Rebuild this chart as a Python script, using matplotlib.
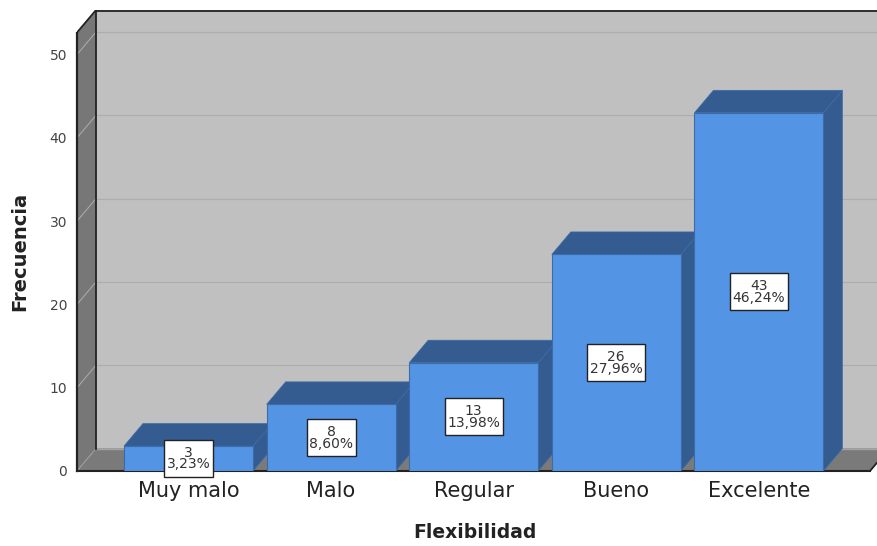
import numpy as np
import matplotlib
matplotlib.use('Agg')
import matplotlib.pyplot as plt
from matplotlib.patches import Polygon, Rectangle

categorias = ['Muy malo', 'Malo', 'Regular', 'Bueno', 'Excelente']
frecuencia = [3, 8, 13, 26, 43]
porcentaje = ['3,23%', '8,60%', '13,98%', '27,96%', '46,24%']
yticks = [0, 10, 20, 30, 40, 50]

W, H = 877, 546
X0_PX, Y0_PX, YTOP_PX = 77, 471, 10
PX_X = 142.6
PX_Y = 8.33
DX = 19 / PX_X
DY = 22.5 / PX_Y
ANCHO = 129 / PX_X

C_FRONT = '#5394e4'
C_DARK = '#345c91'
C_EDGE = '#3b6ca8'

fig = plt.figure(figsize=(W / 100, H / 100), dpi=100)
ax = fig.add_axes([X0_PX / W, (H - Y0_PX) / H, 1 - X0_PX / W, (Y0_PX - YTOP_PX) / H])
x0 = (X0_PX - 188.5) / PX_X
x1 = (W - 188.5) / PX_X
ymax = (Y0_PX - YTOP_PX) / PX_Y
ytop = ymax - DY
xfin = (870 - 188.5) / PX_X
ax.set_xlim(x0, x1)
ax.set_ylim(0, ymax)
for s in ax.spines.values():
    s.set_visible(False)

# paredes
ax.add_patch(Polygon([(x0 + DX, DY), (xfin + DX, DY), (xfin + DX, ymax), (x0 + DX, ymax)],
                     fc='#c0c0c0', ec='none', zorder=1))
ax.add_patch(Polygon([(x0, 0), (x0 + DX, DY), (x0 + DX, ymax), (x0, ytop)],
                     fc='#777777', ec='none', zorder=1))
ax.add_patch(Polygon([(x0, 0), (xfin, 0), (xfin + DX, DY), (x0 + DX, DY)],
                     fc='#7a7a7a', ec='none', zorder=1))

# rejilla
for t in yticks[1:]:
    ax.plot([x0 + DX, x1], [t + DY, t + DY], color='#adadad', lw=0.8, zorder=2)
    ax.plot([x0, x0 + DX], [t, t + DY], color='#a8a8a8', lw=0.8, zorder=2)
ax.plot([x0 + DX, x1], [DY, DY], color='#a4a4a4', lw=1, zorder=2)
ax.plot([x0, x0 + DX], [0, DY], color='#a0a0a0', lw=0.7, zorder=2)

# lineas negras
negro = '#222222'
ax.plot([x0 + DX, x0 + DX], [DY, ymax], color=negro, lw=1.3, zorder=3)
ax.plot([x0 + DX, x1], [ymax - 0.1, ymax - 0.1], color=negro, lw=1.3, zorder=3)
ax.plot([x0, x0], [0, ytop], color=negro, lw=1.6, zorder=3, clip_on=False)
ax.plot([x0, x0 + DX], [ytop, ymax], color=negro, lw=1.3, zorder=3)
ax.plot([x0, xfin], [0, 0], color=negro, lw=1.5, zorder=3, clip_on=False)
ax.plot([xfin, xfin + DX], [0, DY], color=negro, lw=1.3, zorder=3)

# barras
for i, v in enumerate(frecuencia):
    izq = i - ANCHO / 2
    der = i + ANCHO / 2
    ax.add_patch(Polygon([(der, 0), (der + DX, DY), (der + DX, v + DY), (der, v)],
                         fc=C_DARK, ec=C_EDGE, lw=0.5, zorder=4 + i))
    ax.add_patch(Polygon([(izq, v), (izq + DX, v + DY), (der + DX, v + DY), (der, v)],
                         fc=C_DARK, ec=C_EDGE, lw=0.5, zorder=4 + i))
    ax.bar(i, v, width=ANCHO, color=C_FRONT, edgecolor=C_EDGE, lw=0.8, zorder=4.5 + i)

# etiquetas
for i, v in enumerate(frecuencia):
    ancho_caja = (49 if len(porcentaje[i]) == 5 else 58) / PX_X
    alto_caja = 37 / PX_Y
    ax.add_patch(Rectangle((i - ancho_caja / 2, v / 2 - alto_caja / 2), ancho_caja, alto_caja,
                           fc='white', ec='#222222', lw=1, zorder=20, clip_on=False))
    ax.text(i, v / 2, '%d\n%s' % (v, porcentaje[i]), ha='center', va='center', fontsize=10,
            linespacing=0.8, color='#333333', zorder=21)

ax.set_xticks(range(len(categorias)))
ax.set_xticklabels(categorias, fontsize=15, color='#222222')
ax.set_yticks(yticks)
ax.set_yticklabels([str(t) for t in yticks], fontsize=10, color='#444444')
ax.tick_params(axis='x', length=0, pad=7)
ax.tick_params(axis='y', length=0, pad=7)

fig.text(474.5 / W, 1 - 533 / H, 'Flexibilidad', fontsize=13.5, fontweight='bold',
         ha='center', va='center', color='#222222')
fig.text(20 / W, 1 - 251 / H, 'Frecuencia', fontsize=14, fontweight='bold', rotation=90,
         ha='center', va='center', color='#222222')

fig.savefig('out.png', dpi=100)
